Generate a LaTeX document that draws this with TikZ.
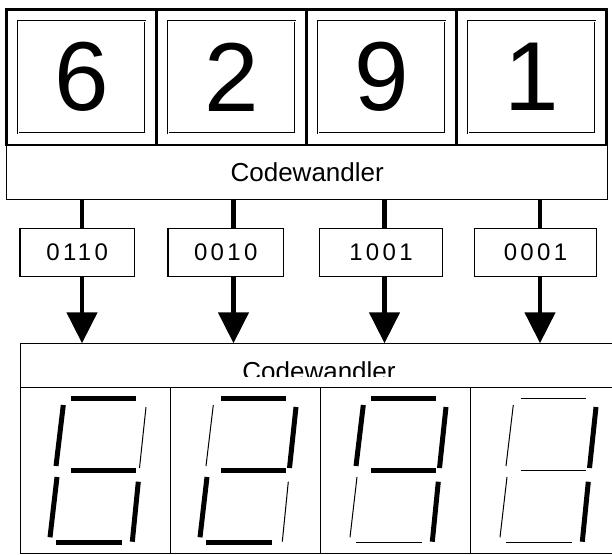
\documentclass[tikz,border=0pt]{standalone}
\usepackage{fontspec}
\setmainfont{Liberation Sans}
\newfontfamily\codefont[LetterSpace=14]{Liberation Sans}
\usetikzlibrary{arrows.meta}
\tikzset{
  x=1pt, y=-1pt,
  topcell/.style={draw, line width=2.6pt, minimum width=150pt, minimum height=135.7pt, inner sep=0pt, outer sep=0pt},
  digitbox/.style={draw, line width=0.5pt, double, double distance=1.3pt, minimum width=127pt, minimum height=112pt, inner sep=0pt, font=\fontsize{98}{98}\selectfont},
  convbox/.style={draw, line width=1.2pt, inner sep=0pt, outer sep=0pt, font=\fontsize{26}{26}\selectfont},
  codebox/.style={draw, line width=1.2pt, minimum height=48.5pt, inner sep=0pt, outer sep=0pt, font=\codefont\fontsize{24}{24}\selectfont},
  bus/.style={line width=4.6pt},
  busarrow/.style={line width=4.6pt, -{Triangle[width=30pt,length=31pt]}},
  dispcell/.style={draw, line width=1.2pt, minimum width=150pt, minimum height=165.5pt, inner sep=0pt, outer sep=0pt},
  segon/.style={line width=5pt},
  segoff/.style={line width=1pt},
}
\newcommand{\sevenseg}[8]{%
  % #1 x offset, #2..#8 styles: top, UL, UR, mid, LL, LR, bottom
  \begin{scope}[xshift=#1]
    \draw[#2] (70.5,398.3) -- (136,398.3);
    \draw[#3] (63.3,405) -- (56,466);
    \draw[#4] (146,407) -- (139.5,468);
    \draw[#5] (70.5,470) -- (136,470);
    \draw[#6] (57,477) -- (50,537.3);
    \draw[#7] (138.3,481.7) -- (132.3,541.7);
    \draw[#8] (56,542) -- (122,542);
  \end{scope}}
\begin{document}
\begin{tikzpicture}
\useasboundingbox (0,0) rectangle (612,554);
\clip (0,0) rectangle (612,554);
\fill[white] (0,0) rectangle (612,554);

% top digit cells
\node[topcell] (c1) at (81.7,77.2) {};
\node[topcell] (c2) at (231.7,77.2) {};
\node[topcell] (c3) at (381.7,77.2) {};
\node[topcell] (c4) at (531.7,77.2) {};
\node[digitbox] (d1) at (c1) {6};
\node[digitbox] (d2) at (c2) {2};
\node[digitbox] (d3) at (c3) {9};
\node[digitbox] (d4) at (c4) {1};

% first code converter
\node[convbox, minimum width=601pt, minimum height=54.5pt] (cw1) at (307.2,172.2) {Codewandler};

% binary code boxes
\node[codebox, minimum width=114.5pt] (b1) at (77.2,252.5) {0110};
\node[codebox, minimum width=115.5pt] (b2) at (225.8,252.5) {0010};
\node[codebox, minimum width=123pt] (b3) at (381,252.5) {1001};
\node[codebox, minimum width=122pt] (b4) at (535.5,252.5) {0001};

% second code converter box
\node[convbox, minimum width=600pt, minimum height=44.4pt, anchor=north west] (cw2) at (20.7,343.3) {};
\begin{scope}
  \clip (20,344) rectangle (620,376.7);
  \node[font=\fontsize{26}{26}\selectfont, anchor=base] (cwt) at (319,380.7) {Codewandler};
\end{scope}

% coordinates for the connectors
\coordinate (t1) at (82,343.3);
\coordinate (t2) at (233.5,343.3);
\coordinate (t3) at (384.5,343.3);
\coordinate (t4) at (540,343.3);

\draw[bus] (82,199.5) -- (82,228.3);
\draw[bus] (233.5,199.5) -- (233.5,228.3);
\draw[bus] (384.5,199.5) -- (384.5,228.3);
\draw[bus] (540,199.5) -- (540,228.3);
\draw[busarrow] (82,276.7) -- (t1);
\draw[busarrow] (233.5,276.7) -- (t2);
\draw[busarrow] (384.5,276.7) -- (t3);
\draw[busarrow] (540,276.7) -- (t4);

% display cells
\node[dispcell, anchor=north west] (s1) at (20.7,387.7) {};
\node[dispcell, anchor=north west] (s2) at (170.3,387.7) {};
\node[dispcell, anchor=north west] (s3) at (320.5,387.7) {};
\node[dispcell, anchor=north west] (s4) at (470.5,387.7) {};

% seven-segment digits: top, UL, UR, mid, LL, LR, bottom
\sevenseg{0pt}{segon}{segon}{segoff}{segon}{segon}{segon}{segon}
\sevenseg{150pt}{segon}{segoff}{segon}{segon}{segon}{segoff}{segon}
\sevenseg{300pt}{segon}{segon}{segon}{segon}{segoff}{segon}{segoff}
\sevenseg{450pt}{segoff}{segoff}{segon}{segoff}{segoff}{segon}{segoff}
\end{tikzpicture}
\end{document}
